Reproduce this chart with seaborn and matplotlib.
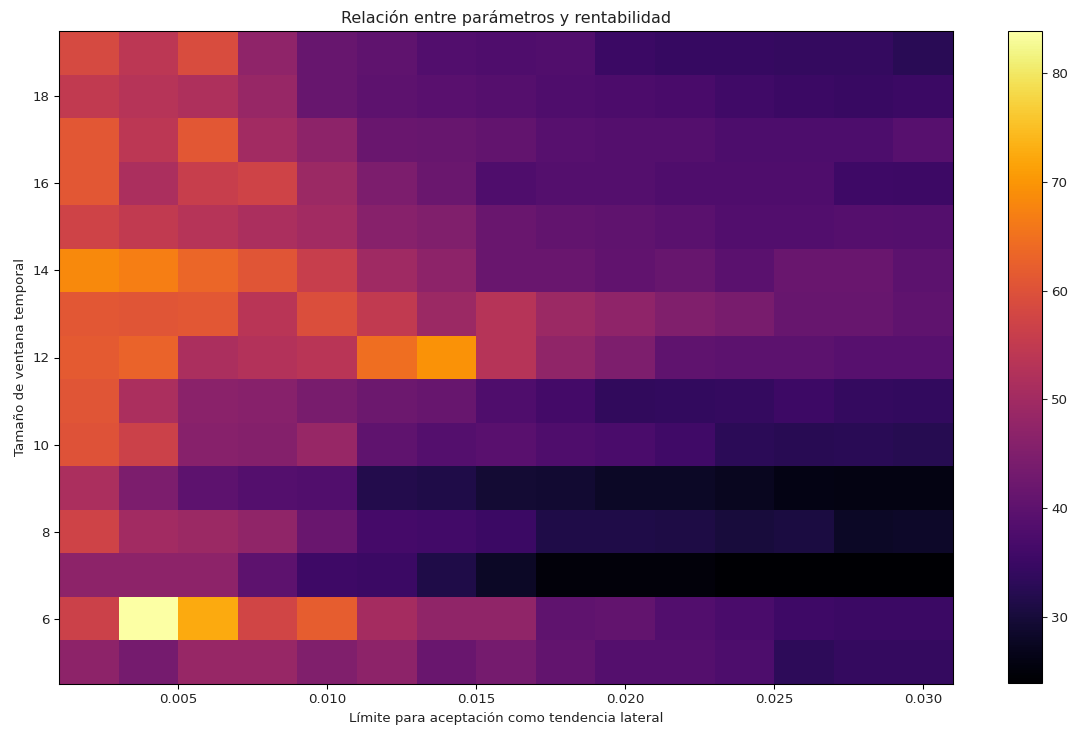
import numpy as np
import matplotlib
matplotlib.use("Agg")
import matplotlib.pyplot as plt
import seaborn as sns

# Parameter grid: lateral-trend acceptance limit (x) and window size (y)
limites = [0.002, 0.004, 0.006, 0.008, 0.010, 0.012, 0.014, 0.016,
           0.018, 0.020, 0.022, 0.024, 0.026, 0.028, 0.030]
ventanas = [5, 6, 7, 8, 9, 10, 11, 12, 13, 14, 15, 16, 17, 18, 19]

# Profitability per window size (one list per row, ordered by limit)
rent_v5 = [47, 43.5, 48.5, 48.5, 45, 47, 41.5, 43.4, 40.7, 38.5, 38.5, 37.5, 33.2, 34.2, 34.2]
rent_v6 = [56.5, 83.9, 72.5, 57.5, 62, 50.6, 47.5, 47.5, 40.2, 40.7, 38.2, 37.2, 35.4, 35, 35]
rent_v7 = [47, 47, 47, 40, 35.5, 35, 31.3, 27.9, 25, 25, 25, 24.1, 24.1, 23.9, 23.9]
rent_v8 = [57, 50, 49, 47.5, 41.5, 36.5, 36, 35, 31.3, 31.3, 31, 30.2, 30.6, 28.1, 28.2]
rent_v9 = [51.5, 44.5, 39.9, 38.5, 38, 31.8, 31.3, 29.3, 29.1, 28.1, 27.9, 27.4, 26.1, 25.8, 25.9]
rent_v10 = [60, 56.5, 46, 45.5, 48.5, 40.3, 38.5, 39.3, 37.9, 37.1, 35.8, 33, 32.5, 32.8, 32.3]
rent_v11 = [60.5, 51.5, 46.5, 46, 44, 42, 41.4, 37.8, 36.2, 33.7, 33.8, 34, 35.2, 34, 33.8]
rent_v12 = [61.5, 63, 51.5, 52.5, 53.5, 64.5, 69.5, 53, 47.5, 44.6, 40.3, 39.8, 39.8, 39, 39]
rent_v13 = [61, 60.5, 61, 53.5, 59.5, 55, 49, 53, 49, 47.3, 45, 43.9, 41.3, 41.3, 40.3]
rent_v14 = [68.3, 67, 63.5, 60.5, 56, 49.5, 47, 41.7, 41.6, 40.5, 41.3, 39.6, 41.6, 41.6, 39.7]
rent_v15 = [57, 55, 53, 51.5, 50, 46, 45, 41.7, 40.7, 40.2, 39.6, 38.3, 38.3, 38.8, 38.5]
rent_v16 = [61, 51.5, 56, 57, 49, 44.5, 41.9, 37.9, 38.5, 38.5, 37.8, 37.8, 37.9, 35.6, 35.2]
rent_v17 = [61, 54, 61, 50, 47, 41.7, 41.4, 40.7, 39, 38.5, 38.5, 37.5, 37.5, 37.6, 39]
rent_v18 = [55, 53, 52, 48.5, 41.3, 40, 39.3, 38.9, 37.8, 37.3, 37, 35.7, 35, 34.5, 35.1]
rent_v19 = [58.5, 54, 59, 47.3, 41.3, 40.2, 38.3, 37.8, 38, 35, 34.3, 34.3, 34, 34, 32.7]

rentabilidad = np.array([rent_v5, rent_v6, rent_v7, rent_v8, rent_v9, rent_v10,
                         rent_v11, rent_v12, rent_v13, rent_v14, rent_v15,
                         rent_v16, rent_v17, rent_v18, rent_v19])

xticks = [0.005, 0.010, 0.015, 0.020, 0.025, 0.030]
yticks = [6, 8, 10, 12, 14, 16, 18]
cbar_ticks = [30, 40, 50, 60, 70, 80]

sns.set_style("white")
plt.rcParams["font.family"] = ["DejaVu Sans"]
plt.rcParams["font.size"] = 10

DPI = 96
W, H = 1073, 729
fig = plt.figure(figsize=(W / DPI, H / DPI), dpi=DPI)
ax = fig.add_axes([59 / W, (H - 684) / H, 894 / W, 653 / H])
cax = fig.add_axes([1008 / W, (H - 683) / H, 34 / W, 652 / H])

cmap = sns.color_palette("inferno", as_cmap=True)
mesh = ax.pcolormesh(limites, ventanas, rentabilidad, cmap=cmap, shading="nearest")

ax.set_xticks(xticks)
ax.set_xticklabels([f"{t:.3f}" for t in xticks])
ax.set_yticks(yticks)
ax.tick_params(axis="both", which="major", length=3.5, width=0.8,
               color="black", labelsize=10, labelcolor="#222222",
               bottom=True, left=True)
for s in ax.spines.values():
    s.set_color("black")
    s.set_linewidth(0.8)

ax.set_title("Relación entre parámetros y rentabilidad", fontsize=12, color="#222222", pad=6)
ax.set_xlabel("Límite para aceptación como tendencia lateral", fontsize=10, color="#222222")
ax.set_ylabel("Tamaño de ventana temporal", fontsize=10, color="#222222")

cb = fig.colorbar(mesh, cax=cax)
cb.set_ticks(cbar_ticks)
cb.ax.tick_params(length=3.5, width=0.8, labelsize=10, labelcolor="#222222", right=True)
cb.outline.set_edgecolor("black")
cb.outline.set_linewidth(0.8)

fig.savefig("out.png", dpi=DPI)
